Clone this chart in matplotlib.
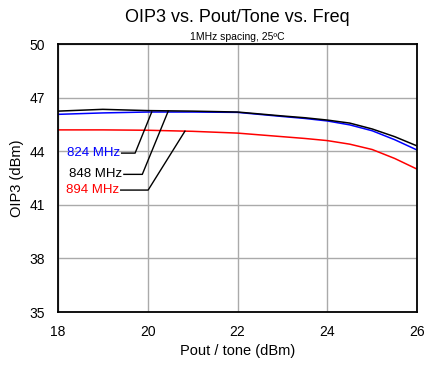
import matplotlib.pyplot as plt
import numpy as np

plt.rcParams['font.family'] = ['Liberation Sans', 'DejaVu Sans']

# Pout / tone (dBm)
pout = [18, 19, 20, 21, 22, 23, 23.5, 24, 24.5, 25, 25.5, 26]
# OIP3 (dBm) per frequency
oip3_824 = [46.07, 46.15, 46.2, 46.2, 46.18, 45.95, 45.84, 45.7, 45.48, 45.15, 44.65, 44.07]
oip3_848 = [46.25, 46.35, 46.28, 46.25, 46.2, 45.98, 45.88, 45.75, 45.58, 45.25, 44.82, 44.3]
oip3_894 = [45.2, 45.2, 45.18, 45.12, 45.02, 44.82, 44.72, 44.6, 44.4, 44.1, 43.6, 43.0]

labels = ['824 MHz', '848 MHz', '894 MHz']
colors = ['#0000ff', '#000000', '#ff0000']
series = [oip3_824, oip3_848, oip3_894]

# label positions and where the leader lines hit the curves
label_x = [19.42, 19.47, 19.40]
label_y = [43.90, 42.71, 41.83]
knee_x = [19.72, 19.88, 20.01]
hit_x = [20.09, 20.46, 20.83]

fig, ax = plt.subplots(figsize=(4.35, 3.68), dpi=100)
fig.subplots_adjust(left=0.133, right=0.959, top=0.88, bottom=0.152)

for vals, c in zip(series, colors):
    ax.plot(pout, vals, color=c, lw=1.1, zorder=3)

for lab, c, vals, lx, ly, kx, hx in zip(labels, colors, series, label_x, label_y, knee_x, hit_x):
    hy = np.interp(hx, pout, vals)
    ax.plot([lx, kx, hx], [ly, ly, hy], color='black', lw=1.0, zorder=4)
    ax.text(lx - 0.03, ly, lab, color=c, fontsize=9.5, ha='right', va='center', zorder=5)

ax.set_xlim(18, 26)
ax.set_ylim(35, 50)
ax.set_xticks([18, 20, 22, 24, 26])
ax.set_yticks([35, 38, 41, 44, 47, 50])
ax.grid(True, color='#aaaaaa', lw=1.0)
ax.tick_params(length=0, labelsize=10, pad=9)
for s in ax.spines.values():
    s.set_linewidth(1.3)
    s.set_zorder(6)

ax.set_xlabel('Pout / tone (dBm)', fontsize=10.5)
ax.set_ylabel('OIP3 (dBm)', fontsize=10.5)
fig.text(0.545, 0.93, 'OIP3 vs. Pout/Tone vs. Freq', ha='center', va='bottom', fontsize=13)
fig.text(0.545, 0.885, '1MHz spacing, 25ºC', ha='center', va='bottom', fontsize=7.5)

plt.savefig('out.png')
